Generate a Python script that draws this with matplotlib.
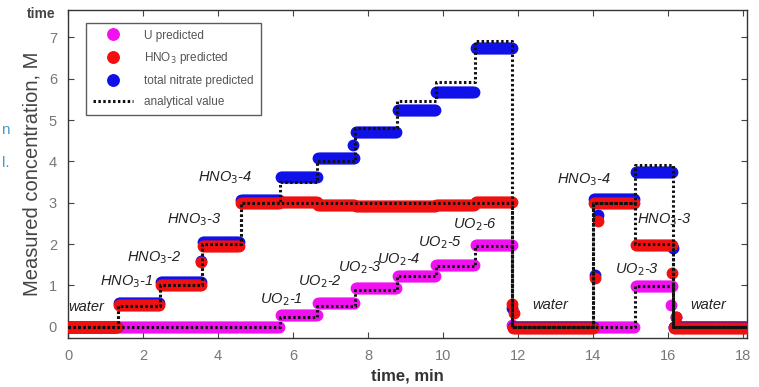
import numpy as np
import matplotlib.pyplot as plt

plt.rcParams["font.family"] = ["Liberation Sans", "DejaVu Sans"]

# segment boundaries of the feed sequence, min
bounds = [0, 1.33, 2.45, 3.57, 4.6, 5.65, 6.65, 7.65, 8.77, 9.8, 10.85, 11.85, 14.0, 15.12, 16.13, 18.1]

# analytical (prepared) concentrations for each segment, M
u_true = [0, 0, 0, 0, 0, 0.25, 0.5, 0.9, 1.22, 1.46, 1.95, 0, 0, 0.98, 0]
hno3_true = [0, 0.5, 1.0, 2.0, 3.0, 3.0, 3.0, 3.0, 3.0, 3.0, 3.0, 0, 3.0, 2.0, 0]
no3_true = [0, 0.5, 1.0, 2.0, 3.0, 3.5, 4.0, 4.8, 5.45, 5.92, 6.9, 0, 3.0, 3.92, 0]

# model predictions, per segment plateau
u_pred = [0, 0, 0, 0, 0, 0.29, 0.57, 0.93, 1.22, 1.49, 1.98, 0, 0, 0.98, 0]
hno3_pred = [0, 0.52, 1.02, 1.95, 3.0, 3.02, 2.94, 2.93, 2.93, 2.94, 3.02, -0.03, 3.0, 1.98, -0.02]
no3_pred = [0, 0.58, 1.08, 2.05, 3.06, 3.63, 4.08, 4.72, 5.24, 5.68, 6.74, 0, 3.1, 3.74, 0]

# predictions caught mid-transition
u_trans_t = [11.85, 16.08]
u_trans_v = [0.05, 0.53]
hno3_trans_t = [3.55, 11.84, 11.9, 14.05, 14.12, 16.1, 16.2]
hno3_trans_v = [1.57, 0.55, 0.33, 1.19, 2.55, 1.3, 0.25]
no3_trans_t = [3.55, 7.6, 11.84, 14.05, 14.12, 16.12, 16.2]
no3_trans_v = [1.6, 4.4, 0.45, 1.25, 2.7, 1.9, 0.25]

dt = 0.04


def sampled(levels, tt, tv):
    t, v = [], []
    for i, lev in enumerate(levels):
        ts = np.arange(bounds[i] + 0.02, bounds[i + 1] - 0.01, dt)
        t.extend(ts)
        v.extend([lev] * len(ts))
    return np.array(t + list(tt)), np.array(v + list(tv))


fig = plt.figure(figsize=(7.59, 3.87), dpi=100)
ax = fig.add_axes([0.0896, 0.1266, 0.8944, 0.8474])

ms = 7.5
tu, vu = sampled(u_pred, u_trans_t, u_trans_v)
tn, vn = sampled(no3_pred, no3_trans_t, no3_trans_v)
th, vh = sampled(hno3_pred, hno3_trans_t, hno3_trans_v)
hu, = ax.plot(tu, vu, "o", color="#f010f0", ms=ms, mec="#f010f0", zorder=2)
hn, = ax.plot(tn, vn, "o", color="#1010e8", ms=ms, mec="#1010e8", zorder=3)
hh, = ax.plot(th, vh, "o", color="#f01010", ms=ms, mec="#f01010", zorder=4)

# analytical values as dotted steps
for vals in (u_true, hno3_true, no3_true):
    ha, = ax.step(bounds, list(vals) + [vals[-1]], where="post", color="#111111",
                  lw=2.2, ls=(0, (0.8, 0.8)), zorder=5)

leg = ax.legend([hu, hh, hn, ha],
                ["U predicted", "HNO$_3$ predicted", "total nitrate predicted", "analytical value"],
                loc="upper left", bbox_to_anchor=(0.018, 0.98), fontsize=8.5, frameon=True,
                fancybox=False, edgecolor="#333333", handlelength=3.4, handletextpad=0.9,
                borderpad=0.6, labelspacing=0.75, markerscale=1.1, numpoints=1)
leg.get_frame().set_linewidth(1.0)
for t in leg.get_texts():
    t.set_color("#555555")

# segment labels
labels = [
    (0.02, 0.48, "water"), (0.85, 1.09, "HNO$_3$-1"), (1.57, 1.67, "HNO$_3$-2"),
    (2.64, 2.59, "HNO$_3$-3"), (3.47, 3.6, "HNO$_3$-4"),
    (5.12, 0.65, "UO$_2$-1"), (6.13, 1.09, "UO$_2$-2"), (7.2, 1.43, "UO$_2$-3"),
    (8.24, 1.62, "UO$_2$-4"), (9.33, 2.03, "UO$_2$-5"), (10.27, 2.47, "UO$_2$-6"),
    (12.37, 0.53, "water"), (13.04, 3.56, "HNO$_3$-4"), (15.17, 2.59, "HNO$_3$-3"),
    (14.59, 1.38, "UO$_2$-3"), (16.6, 0.53, "water"),
]
for x, y, s in labels:
    ax.text(x, y, s, fontsize=10.5, style="italic", color="#222222",
            ha="left", va="center", zorder=6)

ax.set_xlim(0, 18.1)
ax.set_ylim(-0.27, 7.66)
ax.set_xticks(range(0, 19, 2))
ax.set_yticks(range(0, 8))
ax.tick_params(direction="in", top=True, right=True, length=4, labelsize=10.5,
               labelcolor="#777777", color="#444444", pad=8)
for sp in ax.spines.values():
    sp.set_color("#333333")
    sp.set_linewidth(1.0)

ax.set_xlabel("time, min", fontsize=12, fontweight="bold", color="#333333", labelpad=4)
ax.set_ylabel("Measured concentration, M", fontsize=14.5, color="#444444", labelpad=5)

# stray page fragments around the figure
fig.text(0.035, 0.965, "time", fontsize=10, fontweight="bold", color="#444444", va="center")
fig.text(0.002, 0.665, "n", fontsize=11, color="#4a9ac8", va="center")
fig.text(0.002, 0.58, "l.", fontsize=11, color="#4a9ac8", va="center")

fig.savefig("out.png", dpi=100)
